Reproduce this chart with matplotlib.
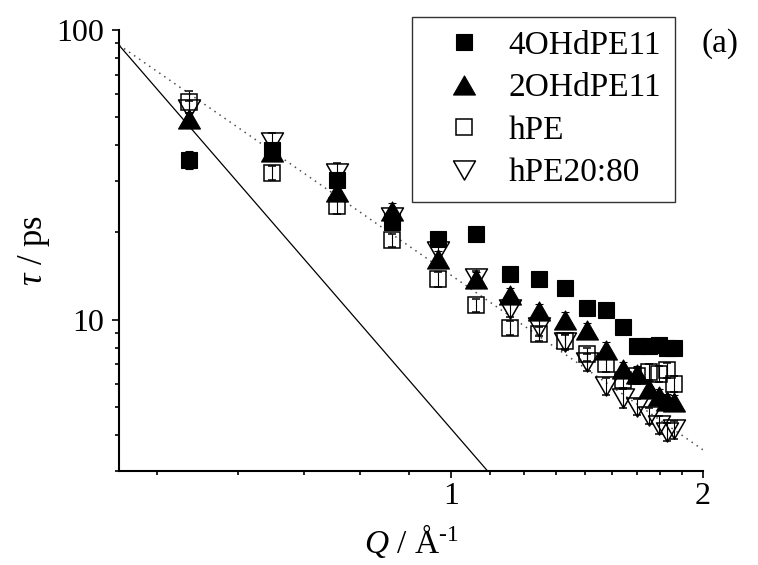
import matplotlib
matplotlib.use('Agg')
import matplotlib.pyplot as plt
from matplotlib.ticker import FixedLocator, NullFormatter
from matplotlib.path import Path
import numpy as np

plt.rcParams['font.family'] = 'Liberation Serif'
plt.rcParams['mathtext.fontset'] = 'custom'
plt.rcParams['mathtext.rm'] = 'Liberation Serif'
plt.rcParams['mathtext.it'] = 'Liberation Serif:italic'

# momentum transfer (1/Angstrom)
q = [0.485, 0.609, 0.730, 0.848, 0.964, 1.071, 1.176, 1.274, 1.367,
     1.452, 1.531, 1.604, 1.667, 1.725, 1.772, 1.810, 1.846]

# relaxation times (ps) and their errors
tau_4oh = [35.7, 38.4, 30.3, 21.7, 19.0, 19.8, 14.4, 13.8, 12.9,
           11.0, 10.8, 9.45, 8.1, 8.1, 8.2, 8.0, 7.95]
err_4oh = [2.5, 2.0, 1.6, 1.2, 1.0, 1.0, 0.7, 0.7, 0.6,
           0.5, 0.5, 0.4, 0.4, 0.4, 0.4, 0.4, 0.4]

tau_2oh = [49.1, 38.0, 27.6, 23.8, 16.2, 13.8, 12.2, 10.7, 9.98,
           9.2, 7.85, 6.75, 6.5, 5.75, 5.46, 5.25, 5.2]
err_2oh = [3.0, 2.2, 1.6, 1.4, 1.0, 0.8, 0.7, 0.6, 0.6,
           0.5, 0.5, 0.4, 0.4, 0.4, 0.3, 0.3, 0.3]

tau_hpe = [56.5, 32.1, 24.6, 18.8, 13.8, 11.2, 9.35, 8.9, 8.4,
           7.6, 7.0, 6.2, 6.4, 6.6, 6.5, 6.7, 6.0]
err_hpe = [5.0, 1.8, 1.4, 1.0, 0.8, 0.6, 0.5, 0.5, 0.5,
           0.4, 0.4, 0.4, 0.4, 0.4, 0.4, 0.4, 0.4]

tau_hpe2080 = [53.2, 41.1, 32.0, 22.6, 17.3, 13.9, 10.9, 9.4, 8.37,
               7.12, 5.9, 5.36, 5.0, 4.65, 4.33, 4.1, 4.18]
err_hpe2080 = [3.5, 3.0, 2.7, 1.4, 1.0, 0.8, 0.7, 0.6, 0.5,
               0.5, 0.4, 0.4, 0.3, 0.3, 0.3, 0.3, 0.3]

labels = ['4OHdPE11', '2OHdPE11', 'hPE', 'hPE20:80']

# power laws: tau = A * Q^n
dotted_amp, dotted_exp = 14.2, -2.0
solid_amp, solid_exp = 4.18, -2.0 / 0.6

# wide triangles, closed so the outline is complete
closed = [Path.MOVETO, Path.LINETO, Path.LINETO, Path.CLOSEPOLY]
tri_up = Path([(-1.15, -1.0), (1.15, -1.0), (0.0, 1.0), (-1.15, -1.0)], closed)
tri_down = Path([(-1.15, 1.0), (1.15, 1.0), (0.0, -1.0), (-1.15, 1.0)], closed)

fig = plt.figure(figsize=(7.58, 5.65), dpi=100)
ax = fig.add_axes([0.157, 0.1664, 0.7704, 0.7805])

qq = np.geomspace(0.4, 2.0, 300)
ax.plot(qq, dotted_amp * qq ** dotted_exp, color='0.3', lw=1.1,
        linestyle=(0, (1, 3)))
ax.plot(qq, solid_amp * qq ** solid_exp, color='k', lw=0.9)

eb = dict(ecolor='k', elinewidth=0.8, capsize=3, capthick=0.8, ls='none')
h4 = ax.errorbar(q, tau_hpe2080, yerr=err_hpe2080, marker=tri_down, ms=15.8,
                 mfc='none', mec='k', mew=1.1, **eb)
h3 = ax.errorbar(q, tau_hpe, yerr=err_hpe, marker='s', ms=11.5,
                 mfc='none', mec='k', mew=1.1, **eb)
h2 = ax.errorbar(q, tau_2oh, yerr=err_2oh, marker=tri_up, ms=15.8,
                 mfc='k', mec='k', mew=0.8, **eb)
h1 = ax.errorbar(q, tau_4oh, yerr=err_4oh, marker='s', ms=11.5,
                 mfc='k', mec='k', mew=0.8, **eb)

ax.set_xscale('log')
ax.set_yscale('log')
ax.set_xlim(0.4, 2.0)
ax.set_ylim(3.0, 100.0)

ax.set_xticks([1, 2], labels=['1', '2'])
minor_q = [1 - k / 9 for k in range(1, 6)] + [1 + k / 9 for k in range(1, 9)]
ax.xaxis.set_minor_locator(FixedLocator(minor_q))
ax.xaxis.set_minor_formatter(NullFormatter())
ax.set_yticks([10, 100], labels=['10', '100'])
ax.yaxis.set_minor_formatter(NullFormatter())

for s in ['top', 'right']:
    ax.spines[s].set_visible(False)
for s in ['left', 'bottom']:
    ax.spines[s].set_linewidth(1.5)

ax.tick_params(which='major', direction='out', length=5, width=1.2,
               labelsize=23)
ax.tick_params(which='minor', direction='out', length=3, width=1.2)
ax.tick_params(axis='x', which='major', pad=3)
ax.tick_params(axis='y', which='major', pad=6)

ax.set_xlabel(r'$Q$ / Å$^{\text{-1}}$', fontsize=24, labelpad=8)
ax.set_ylabel(r'$\tau$ / ps', fontsize=25, labelpad=3)

leg = ax.legend([h1[0], h2[0], h3[0], h4[0]], labels, loc='upper left',
                bbox_to_anchor=(412 / 758, 1 - 17 / 565),
                bbox_transform=fig.transFigure, fontsize=24,
                frameon=True, fancybox=False, shadow=False,
                borderaxespad=0, borderpad=0.4, handlelength=2.3,
                handletextpad=0.2, labelspacing=0.36, numpoints=1)
leg.get_frame().set_edgecolor('k')
leg.get_frame().set_linewidth(1.0)

fig.text(720 / 758, 1 - 44 / 565, '(a)', fontsize=24, ha='center',
         va='center')

fig.savefig('out.png', dpi=100)
